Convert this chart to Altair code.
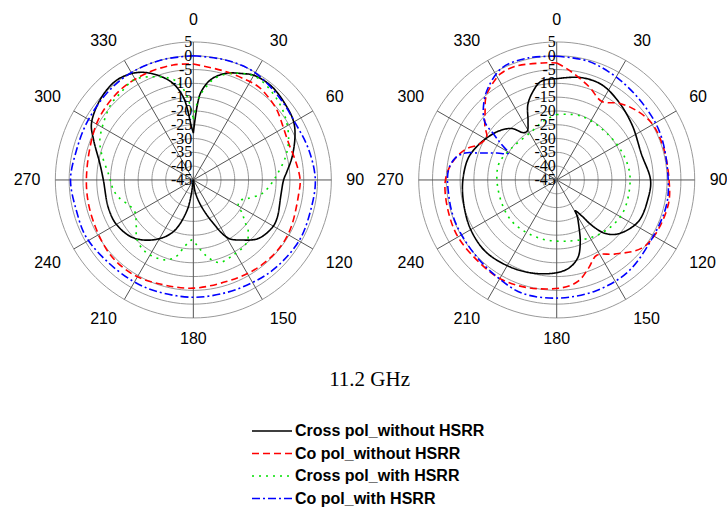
import altair as alt
import pandas as pd

# ---------------- data (angle in degrees, level in dB) ----------------
SERIES = ["Cross pol_without HSRR", "Co pol_without HSRR",
          "Cross pol_with HSRR", "Co pol_with HSRR"]
COLORS = ["#000000", "#ff0000", "#00e000", "#0000ff"]
DASHES = [[1, 0], [7, 4], [2, 5], [8, 3, 2, 3]]

left_cross_without = [(0, -28), (3, -18), (5, -13), (10, -8), (17, -4.6), (25, -2.5), (30, -1.2),
                      (40, -0.8), (52, -2), (60, -3), (67, -5), (77, -8.3), (85, -11), (90, -12.3),
                      (100, -12.8), (114, -11.7), (121, -11.6), (132, -13.3), (141, -17), (149, -20.4),
                      (156, -28.5), (164, -35.7), (172, -41), (180, -45), (188, -40), (192, -33.4),
                      (201, -25), (212, -19.6), (226, -14.8), (240, -12.8), (252, -12.6), (270, -12.4),
                      (280, -10.6), (292, -6), (299, -2.8), (311, -0.4), (322, 0.6), (331, -0.7),
                      (338, -3.3), (347, -8.4), (353, -14.6), (358, -25.7), (360, -28)]
left_co_without = [(0, -3), (16, -4), (28, -4), (35, -3.8), (42, -4.5), (50, -5.5), (58, -7), (69, -8),
                   (80, -7.3), (90, -6.3), (98, -6.5), (114, -5.8), (123, -5.3), (134, -5.3), (147, -5.7),
                   (162, -6.3), (180, -5.8), (196, -5.5), (212, -4.4), (228, -4.5), (248, -5.8),
                   (266, -6.2), (288, -5.7), (304, -4.1), (321, -3), (336, -2.8), (350, -2.7), (360, -3)]
left_cross_with = [(0, -23), (4, -15), (8, -10.8), (12, -7.3), (20, -3.9), (31, -1.3), (44, -2.6),
                   (55, -4.5), (67, -7.5), (76, -10.6), (86, -14.5), (92, -16.5), (101, -19.5),
                   (109, -24.3), (114, -26.6), (120, -26.2), (124, -23.7), (129, -21), (133, -17.8),
                   (140, -15.1), (152, -14.2), (163, -13.7), (171, -17.5), (178, -22), (181, -23.3),
                   (187, -21), (193, -16.4), (200, -14.2), (214, -13.7), (224, -15.5), (231, -18.4),
                   (242, -20.9), (249, -19.8), (257, -17.2), (263, -15.8), (273, -14.4), (286, -10.4),
                   (293, -8.2), (302, -6.5), (313, -4.4), (320, -3.9), (329, -2.8), (337, -4.4),
                   (349, -8), (354, -12.2), (357.5, -17.8), (360, -23)]
left_co_with = [(0, 0), (15, 0), (29, -0.1), (46, -1.8), (61, -2.7), (75, -1.8), (90, -0.8),
                (105, -1.1), (120, -0.8), (137, -1.4), (150, -2.1), (164, -2.5), (180, -2.5),
                (198, -2.5), (211, -2.3), (227, -2), (242, -1), (255, -1.2), (270, -0.5), (284, -1.3),
                (298, -1.2), (315, -0.6), (329, -0.1), (345, 0), (360, 0)]

right_cross_without = [(0, -8.3), (13, -6.9), (25, -6.8), (38, -8.8), (54, -11.2), (73, -12.9),
                       (90, -11), (101, -11.2), (117, -11.8), (131, -15.3), (138, -19), (142.5, -24.5),
                       (145, -29), (149, -32), (150.5, -29.9), (155, -25.8), (159, -21.2), (164.5, -16),
                       (172, -12.8), (181, -11.3), (195, -10.1), (209, -9.2), (225, -8.4), (241, -9.1),
                       (257, -10.3), (270, -11), (284, -12), (294, -13.9), (305, -16.3), (312, -18),
                       (319, -20.3), (325, -24.1), (329, -24.3), (334, -21.3), (339, -15.8),
                       (345, -11.8), (351, -8.8), (360, -8.3)]
right_co_without = [(0, -2.6), (6, -4.8), (19, -9.2), (30, -12.2), (39, -9.2), (48, -6.9), (59, -4.9),
                    (73, -4.6), (90, -4.3), (102, -3.6), (119, -4.2), (129, -5.6), (142, -10.9),
                    (152, -14.1), (160, -11.1), (168, -7.5), (177, -5.9), (195, -4.6), (209, -3.8),
                    (222, -4), (240, -3.7), (254, -4.1), (268, -4.5), (276, -5.7), (283, -7.8),
                    (289, -10.4), (295, -14.2), (301.7, -15.2), (306.6, -12.6), (313, -9.5),
                    (319.7, -5.4), (325.6, -3.3), (332, -1.5), (340, -1.2), (353, -2.3), (360, -2.6)]
right_cross_with = [(0, -21.3), (21, -20.2), (49, -20.1), (72, -19), (90, -18.4), (118, -18.3),
                    (143, -20.1), (172, -22.6), (198, -23), (228, -22.9), (259, -23.5), (285, -23.2),
                    (305, -25), (333, -25.2), (348, -23), (360, -21.3)]
right_co_with = [(0, -0.2), (15, -0.5), (33, -2.2), (53, -3.5), (68, -4), (90, -4.6), (103, -4.2),
                 (120, -4.5), (142, -2.9), (161, -2.4), (180, -2.2), (197, -2.1), (211, -3.7),
                 (228, -4.9), (248, -5.2), (264, -5.5), (275, -5.6), (282, -7.3), (286.4, -10.4),
                 (289, -15), (291, -17.8), (294.2, -21.2), (299, -25), (302.9, -21), (306, -16.8),
                 (309, -11.4), (316, -6.9), (323, -3.5), (334, 0.2), (347, 0.4), (360, -0.2)]

RING_LEVELS = [5, 0, -5, -10, -15, -20, -25, -30, -35, -40, -45]
SPOKE_ANGLES = [0, 30, 60, 90, 120, 150, 180, 210, 240, 270, 300, 330]
TITLE = "11.2 GHz"

# ---------------- tables ----------------
curves = {
    "L": [left_cross_without, left_co_without, left_cross_with, left_co_with],
    "R": [right_cross_without, right_co_without, right_cross_with, right_co_with],
}
rows = []
for panel, lists in curves.items():
    for name, pts in zip(SERIES, lists):
        for i, (a, d) in enumerate(pts):
            rows.append({"panel": panel, "series": name, "idx": i, "angle": a, "db": d})
df = pd.DataFrame(rows)

ring_rows = []
for panel in ["L", "R"]:
    for lv in RING_LEVELS[:-1]:
        for a in range(0, 361, 3):
            ring_rows.append({"panel": panel, "key": f"{panel}{lv}", "angle": a, "db": lv})
rings = pd.DataFrame(ring_rows)

spokes = pd.DataFrame([{"panel": p, "angle": a} for p in ["L", "R"] for a in SPOKE_ANGLES])
rlabels = pd.DataFrame([{"panel": p, "db": lv, "label": str(lv)} for p in ["L", "R"] for lv in RING_LEVELS])
alabels = pd.DataFrame([{"panel": p, "angle": a, "label": str(a)} for p in ["L", "R"] for a in SPOKE_ANGLES])

# ---------------- geometry ----------------
CX = "datum.panel == 'R' ? 2.633 : 0"
R = "(max(datum.db, -45) + 45) / 50"
xs = alt.Scale(domain=[-1.401, 3.867], nice=False, zero=False)
ys = alt.Scale(domain=[-2.377, 1.304], nice=False, zero=False)


def polar(ch):
    return ch.transform_calculate(cx=CX, r=R, t="datum.angle * PI / 180").transform_calculate(
        x="datum.cx + datum.r * sin(datum.t)", y="datum.r * cos(datum.t)")


ring_layer = polar(alt.Chart(rings).mark_line(color="#9a9a9a", strokeWidth=1)).encode(
    x=alt.X("x:Q", scale=xs, axis=None), y=alt.Y("y:Q", scale=ys, axis=None),
    detail="key:N", order="angle:Q")

spoke_layer = alt.Chart(spokes).mark_rule(color="#555555", strokeWidth=1).transform_calculate(
    cx=CX, t="datum.angle * PI / 180").transform_calculate(
    x0="datum.cx", y0="0", x1="datum.cx + sin(datum.t)", y1="cos(datum.t)").encode(
    x=alt.X("x0:Q", scale=xs, axis=None), y=alt.Y("y0:Q", scale=ys, axis=None),
    x2="x1:Q", y2="y1:Q")

legend = alt.Legend(title=None, orient="none", legendX=264, legendY=423, symbolType="M-5,0H5",
                    symbolSize=64, symbolStrokeWidth=1.6, labelFont="Liberation Sans",
                    labelFontWeight="bold", labelFontSize=16, labelColor="#000000",
                    labelOffset=15, rowPadding=6.5, padding=0, labelLimit=400)

curve_layer = polar(alt.Chart(df).mark_line(strokeWidth=1.6, interpolate="catmull-rom")).encode(
    x=alt.X("x:Q", scale=xs, axis=None), y=alt.Y("y:Q", scale=ys, axis=None),
    color=alt.Color("series:N", scale=alt.Scale(domain=SERIES, range=COLORS), legend=legend),
    strokeDash=alt.StrokeDash("series:N", scale=alt.Scale(domain=SERIES, range=DASHES), legend=legend),
    detail="panel:N", order="idx:Q")

rlabel_layer = polar(alt.Chart(rlabels).mark_text(
    align="right", baseline="middle", font="Liberation Serif", fontSize=16, dx=-1, color="#000000"
).transform_calculate(angle="0")).encode(
    x=alt.X("x:Q", scale=xs, axis=None), y=alt.Y("y:Q", scale=ys, axis=None), text="label:N")

SGN = "(abs({v}) < 0.01 ? 0 : ({v} > 0 ? 1 : -1))"
alabel_layer = alt.Chart(alabels).mark_text(
    align="center", baseline="middle", font="Liberation Sans", fontSize=16, color="#000000"
).transform_calculate(cx=CX, t="datum.angle * PI / 180").transform_calculate(
    s="sin(datum.t)", c="cos(datum.t)").transform_calculate(
    x="datum.cx + (153 * datum.s + 4.45 * length(datum.label) * " + SGN.format(v="datum.s") + ") / 138",
    y="(153 * datum.c + 6.5 * " + SGN.format(v="datum.c") + ") / 138").encode(
    x=alt.X("x:Q", scale=xs, axis=None), y=alt.Y("y:Q", scale=ys, axis=None), text="label:N")

title_layer = alt.Chart(pd.DataFrame({"label": [TITLE], "x": [1.277], "y": [-1.449]})).mark_text(
    font="Liberation Serif", fontSize=21, color="#000000", align="center", baseline="middle"
).encode(x=alt.X("x:Q", scale=xs, axis=None), y=alt.Y("y:Q", scale=ys, axis=None), text="label:N")

chart = alt.layer(ring_layer, spoke_layer, curve_layer, rlabel_layer, alabel_layer, title_layer).properties(
    width=727, height=508, padding=0, autosize=alt.AutoSizeParams(type="none"),
    background="#ffffff").configure_view(stroke=None)

chart.save("out.html", embed_options={"renderer": "svg", "actions": False})
